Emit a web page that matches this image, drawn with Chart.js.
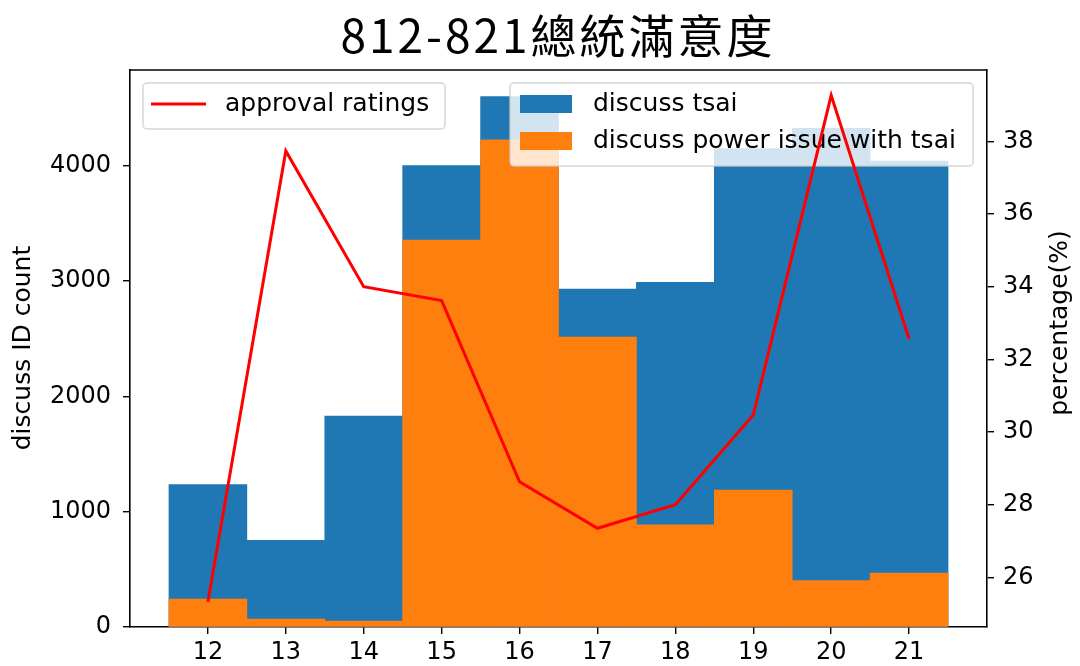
<!DOCTYPE html>
<html>
<head>
<meta charset="utf-8">
<script src="https://cdn.jsdelivr.net/npm/chart.js@4.4.1/dist/chart.umd.min.js"></script>
<style>
  html, body { margin: 0; padding: 0; background: #fff; }
  #wrap { width: 1080px; height: 666px; }
</style>
</head>
<body>
<div id="wrap"><canvas id="myChart" width="1080" height="666"></canvas></div>
<script>
// data
const categories = [12, 13, 14, 15, 16, 17, 18, 19, 20, 21];
const discussTsai = [1235, 752, 1830, 4001, 4600, 2931, 2989, 4149, 4325, 4041];
const powerIssue = [243, 69, 52, 3356, 4224, 2515, 885, 1188, 402, 468];
const approval = [25.33, 37.74, 34.0, 33.62, 28.63, 27.35, 28.0, 30.47, 39.27, 32.56];
const leftTicks = [0, 1000, 2000, 3000, 4000];
const rightTicks = [26, 28, 30, 32, 34, 36, 38];

const BLUE = "#1f77b4";
const ORANGE = "#ff7f0e";
const FONT = "'DejaVu Sans', sans-serif";

// matplotlib style 5% margins
const leftMax = Math.max(...discussTsai) * 1.05;
const aMin = Math.min(...approval), aMax = Math.max(...approval);
const aPad = (aMax - aMin) * 0.05;

function pts(arr) {
  return arr.map((v, i) => ({ x: categories[i], y: v }));
}

function legendFrame(ctx, x, y, w, h) {
  ctx.save();
  ctx.beginPath();
  ctx.roundRect(x, y, w, h, 4);
  ctx.fillStyle = "rgba(255,255,255,0.8)";
  ctx.fill();
  ctx.strokeStyle = "rgba(204,204,204,0.8)";
  ctx.lineWidth = 1.5;
  ctx.stroke();
  ctx.restore();
}

const decorations = {
  id: "decorations",
  afterDatasetDraw(chart, args) {
    // bar legend sits above the bars but under the red line (orange is dataset 1)
    if (args.index !== 1) return;
    const ctx = chart.ctx;
    legendFrame(ctx, 510, 83, 463, 83);
    ctx.save();
    ctx.fillStyle = BLUE;
    ctx.fillRect(520, 95, 52, 18);
    ctx.fillStyle = ORANGE;
    ctx.fillRect(520, 132, 52, 18);
    ctx.fillStyle = "#000";
    ctx.font = "25px " + FONT;
    ctx.textBaseline = "middle";
    ctx.fillText("discuss tsai", 593, 104);
    ctx.fillText("discuss power issue with tsai", 593, 141);
    ctx.restore();
  },
  afterDatasetsDraw(chart) {
    const ctx = chart.ctx;
    const a = chart.chartArea;
    // top spine
    ctx.save();
    ctx.strokeStyle = "#000";
    ctx.lineWidth = 1.6;
    ctx.beginPath();
    ctx.moveTo(a.left, a.top);
    ctx.lineTo(a.right, a.top);
    ctx.stroke();
    ctx.restore();

    // line legend
    legendFrame(ctx, 143, 83, 302, 46);
    ctx.save();
    ctx.strokeStyle = "red";
    ctx.lineWidth = 3;
    ctx.beginPath();
    ctx.moveTo(151, 104);
    ctx.lineTo(206, 104);
    ctx.stroke();
    ctx.fillStyle = "#000";
    ctx.font = "25px " + FONT;
    ctx.textBaseline = "middle";
    ctx.fillText("approval ratings", 225, 104);
    ctx.restore();
  },
  afterDraw(chart) {
    const ctx = chart.ctx;
    ctx.save();
    ctx.fillStyle = "#000";
    ctx.textAlign = "center";
    ctx.textBaseline = "alphabetic";
    ctx.font = "46px 'Noto Sans CJK TC', sans-serif";
    ctx.letterSpacing = "3px";
    ctx.fillText("812-821總統滿意度", 558, 53);
    ctx.letterSpacing = "0px";

    ctx.font = "25px " + FONT;
    ctx.textBaseline = "middle";
    ctx.translate(23, 348);
    ctx.rotate(-Math.PI / 2);
    ctx.fillText("discuss ID count", 0, 0);
    ctx.restore();

    ctx.save();
    ctx.fillStyle = "#000";
    ctx.textAlign = "center";
    ctx.textBaseline = "middle";
    ctx.font = "25px " + FONT;
    ctx.translate(1060, 323);
    ctx.rotate(-Math.PI / 2);
    ctx.fillText("percentage(%)", 0, 0);
    ctx.restore();
  }
};

const tickFont = { family: FONT, size: 24 };
const axisGrid = { drawOnChartArea: false, drawTicks: true, tickLength: 7, color: "#000", lineWidth: 1.4, offset: false };
const axisBorder = { display: true, color: "#000", width: 1.6 };
const plain = (v) => String(v);

const ctx = document.getElementById("myChart").getContext("2d");
const myChart = new Chart(ctx, {
  type: "bar",
  data: {
    datasets: [
      {
        type: "line",
        label: "approval ratings",
        data: pts(approval),
        yAxisID: "y1",
        borderColor: "red",
        borderWidth: 3,
        pointRadius: 0,
        tension: 0,
        order: 0,
        clip: false,
      },
      {
        label: "discuss power issue with tsai",
        data: pts(powerIssue),
        yAxisID: "y",
        backgroundColor: ORANGE,
        order: 1,
      },
      {
        label: "discuss tsai",
        data: pts(discussTsai),
        yAxisID: "y",
        backgroundColor: BLUE,
        order: 2,
      },
    ],
  },
  options: {
    responsive: false,
    animation: false,
    layout: { padding: { top: 70, left: 0, right: 0, bottom: 0 } },
    datasets: {
      bar: { grouped: false, barPercentage: 1.0, categoryPercentage: 1.0, borderWidth: 0 },
    },
    plugins: {
      legend: { display: false },
      title: { display: false },
      tooltip: { enabled: false },
    },
    scales: {
      x: {
        type: "linear",
        offset: false,
        min: 11,
        max: 22,
        grid: axisGrid,
        border: axisBorder,
        ticks: { font: tickFont, color: "#000", padding: 4, maxRotation: 0, callback: plain },
        afterBuildTicks: (s) => { s.ticks = categories.map((v) => ({ value: v })); },
        afterFit: (s) => { s.height = 39; },
      },
      y: {
        position: "left",
        min: 0,
        max: leftMax,
        grid: axisGrid,
        border: axisBorder,
        ticks: { font: tickFont, color: "#000", padding: 12, callback: plain },
        afterBuildTicks: (s) => { s.ticks = leftTicks.map((v) => ({ value: v })); },
        afterFit: (s) => { s.width = 130; },
      },
      y1: {
        position: "right",
        min: aMin - aPad,
        max: aMax + aPad,
        grid: axisGrid,
        border: axisBorder,
        ticks: { font: tickFont, color: "#000", padding: 9, callback: plain },
        afterBuildTicks: (s) => { s.ticks = rightTicks.map((v) => ({ value: v })); },
        afterFit: (s) => { s.width = 93; },
      },
    },
  },
  plugins: [decorations],
});
</script>
</body>
</html>
